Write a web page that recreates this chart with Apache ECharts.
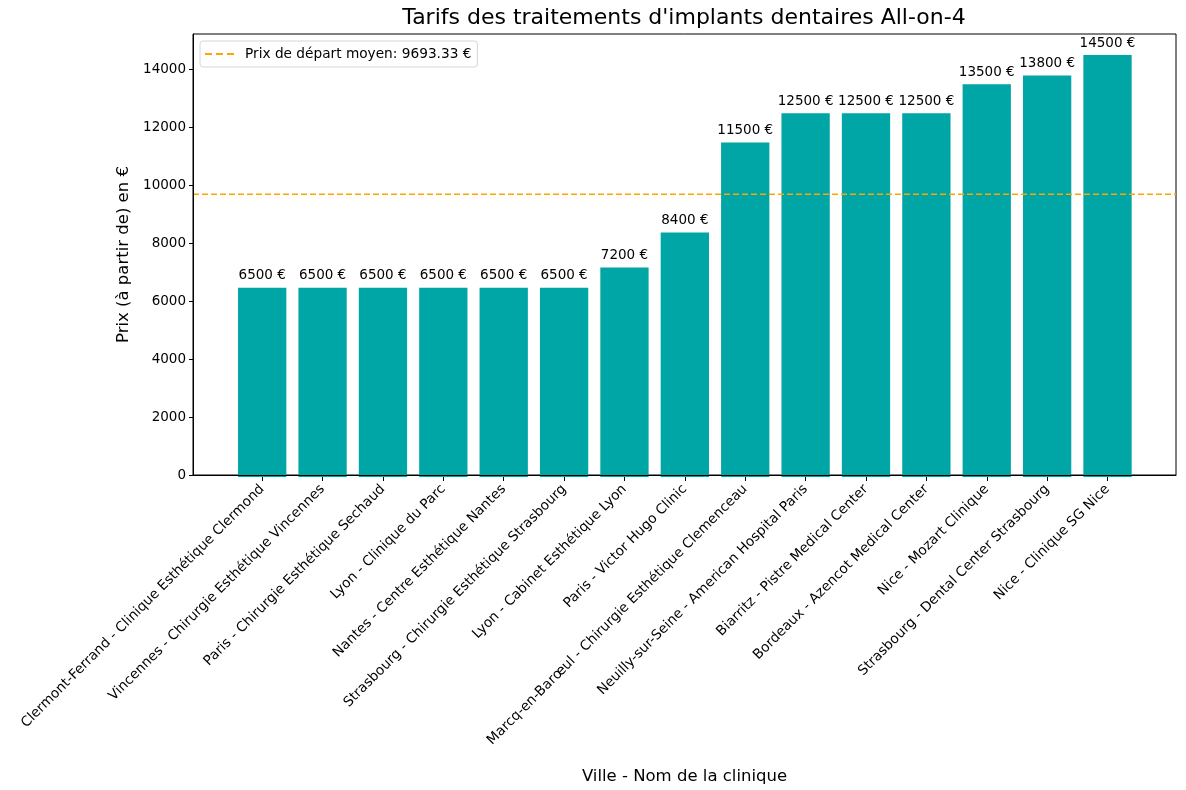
<!DOCTYPE html>
<html>
<head>
<meta charset="utf-8">
<script src="https://cdn.jsdelivr.net/npm/echarts@6/dist/echarts.min.js"></script>
<style>html,body{margin:0;padding:0;background:#fff;}#c{width:1186px;height:790px;}</style>
</head>
<body>
<div id="c"></div>
<script>
const categories = [
  "Clermont-Ferrand - Clinique Esthétique Clermond",
  "Vincennes - Chirurgie Esthétique Vincennes",
  "Paris - Chirurgie Esthétique Sechaud",
  "Lyon - Clinique du Parc",
  "Nantes - Centre Esthétique Nantes",
  "Strasbourg - Chirurgie Esthétique Strasbourg",
  "Lyon - Cabinet Esthétique Lyon",
  "Paris - Victor Hugo Clinic",
  "Marcq-en-Barœul - Chirurgie Esthétique Clemenceau",
  "Neuilly-sur-Seine - American Hospital Paris",
  "Biarritz - Pistre Medical Center",
  "Bordeaux - Azencot Medical Center",
  "Nice - Mozart Clinique",
  "Strasbourg - Dental Center Strasbourg",
  "Nice - Clinique SG Nice"
];
const prices = [6500, 6500, 6500, 6500, 6500, 6500, 7200, 8400, 11500, 12500, 12500, 12500, 13500, 13800, 14500];
const averagePrice = 9693.33;
const yTicks = [0, 2000, 4000, 6000, 8000, 10000, 12000, 14000];

const FONT = "DejaVu Sans";
const yMax = 15225;
const xMinB = -1.14, xMaxB = categories.length - 1 + 1.14;

const chart = echarts.init(document.getElementById('c'), null, {renderer: 'canvas'});
chart.setOption({
  animation: false,
  textStyle: {fontFamily: FONT},
  graphic: [{
    type: 'text', x: 684, y: 18,
    style: {text: "Tarifs des traitements d'implants dentaires All-on-4", font: '22px "DejaVu Sans"', fill: '#000', textAlign: 'center', textVerticalAlign: 'middle'}
  }],
  legend: {
    left: 200, top: 41,
    data: [{name: 'Prix de départ moyen: 9693.33 €', icon: 'path://M0,0h7v2h-7zM11,0h7v2h-7zM22,0h7v2h-7z'}],
    itemWidth: 29, itemHeight: 2, itemGap: 11,
    textStyle: {fontFamily: FONT, fontSize: 13.7, color: '#000', padding: [0, 0, 0, 6]},
    borderColor: '#d6d6d6', borderWidth: 1, borderRadius: 3,
    padding: [6, 6, 6, 5], backgroundColor: 'rgba(255,255,255,0.8)'
  },
  grid: [
    {left: 193, right: 10, top: 34, bottom: 313, show: true, borderColor: '#000', borderWidth: 1, backgroundColor: 'transparent'},
    {left: 232, right: 48.3, top: 34, bottom: 313}
  ],
  xAxis: [
    {type: 'value', gridIndex: 0, min: xMinB, max: xMaxB, z: 10,
     axisLine: {show: true, onZero: false, lineStyle: {color: '#000', width: 1}}, axisTick: {show: false}, axisLabel: {show: false}, splitLine: {show: false},
     name: 'Ville - Nom de la clinique', nameLocation: 'middle', nameGap: 293,
     nameTextStyle: {fontFamily: FONT, fontSize: 16.5, color: '#000'}},
    {type: 'category', gridIndex: 1, data: categories, z: 10,
     axisLine: {show: false, onZero: false},
     axisTick: {show: true, alignWithLabel: true, length: 4, lineStyle: {color: '#000'}},
     axisLabel: {rotate: 45, interval: 0, margin: 10, fontFamily: FONT, fontSize: 13.7, color: '#000'},
     splitLine: {show: false}}
  ],
  yAxis: [
    {type: 'value', gridIndex: 0, min: 0, max: yMax, z: 10,
     axisLine: {show: true, onZero: false, lineStyle: {color: '#000', width: 1}},
     axisTick: {show: true, length: 4, lineStyle: {color: '#000'}, customValues: yTicks},
     axisLabel: {fontFamily: FONT, fontSize: 13.5, color: '#000', margin: 7, customValues: yTicks, formatter: v => String(v)},
     splitLine: {show: false},
     name: 'Prix (à partir de) en €', nameLocation: 'middle', nameGap: 60,
     nameTextStyle: {fontFamily: FONT, fontSize: 16.5, color: '#000'}},
    {type: 'value', gridIndex: 1, min: 0, max: yMax, show: false, splitLine: {show: false}}
  ],
  series: [
    {type: 'bar', xAxisIndex: 1, yAxisIndex: 1, data: prices, barWidth: '80%',
     itemStyle: {color: '#00a5a5'},
     label: {show: true, position: 'top', distance: 5, formatter: p => p.value + ' €', fontFamily: FONT, fontSize: 13.5, color: '#000'}},
    {type: 'line', name: 'Prix de départ moyen: 9693.33 €', xAxisIndex: 0, yAxisIndex: 0,
     data: [[xMinB, averagePrice], [xMaxB, averagePrice]], symbol: 'none', showSymbol: false, z: 5,
     lineStyle: {color: '#ffa500', type: [6, 3], width: 1.6}, itemStyle: {color: '#ffa500'}}
  ]
});
</script>
</body>
</html>
